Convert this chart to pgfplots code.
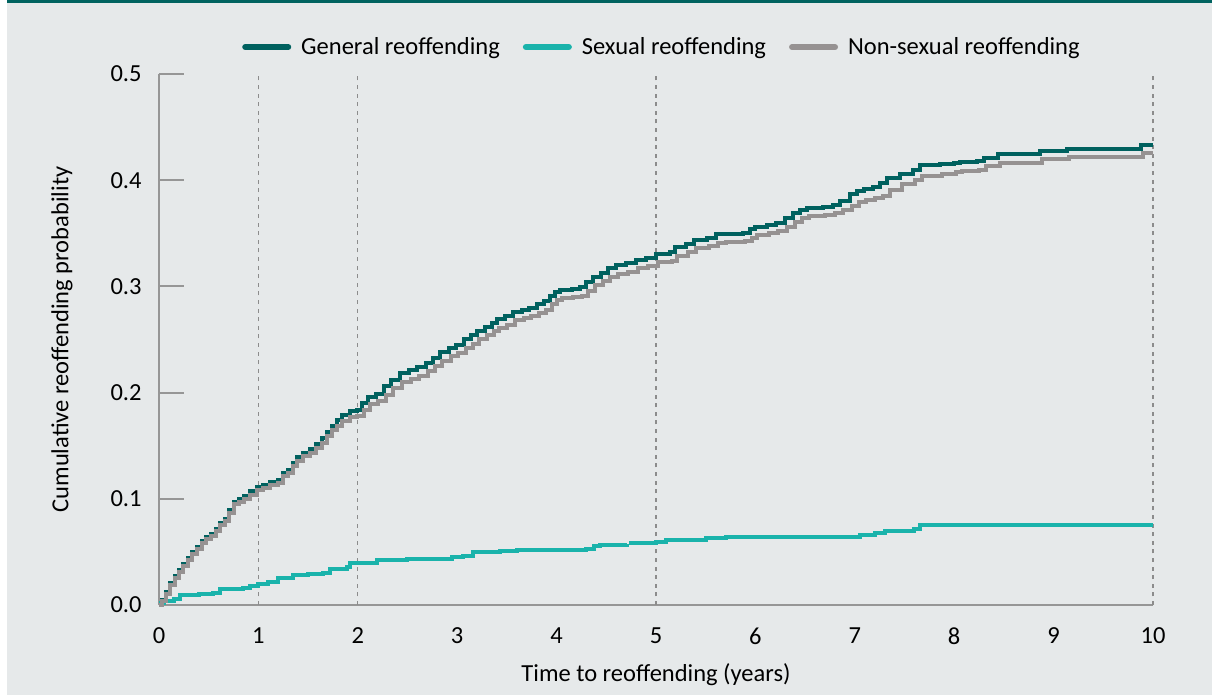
\documentclass[border=0pt]{standalone}
\usepackage{pgfplots}
\pgfplotsset{compat=1.18}
\usepackage{fontspec}
\setmainfont{Carlito}
\definecolor{bgc}{HTML}{E6E9EA}
\definecolor{band}{HTML}{006360}
\definecolor{gen}{HTML}{00615F}
\definecolor{sex}{HTML}{1AB3AB}
\definecolor{nons}{HTML}{969292}
\definecolor{axc}{HTML}{969696}
\definecolor{dashc}{HTML}{8C8C8C}
\begin{document}
\begin{tikzpicture}
\useasboundingbox (0,0) rectangle (606pt,347.5pt);
\fill[white] (0,0) rectangle (606pt,347.5pt);
\fill[bgc] (3.5pt,0pt) rectangle (606pt,347.5pt);
\fill[band] (3.5pt,346pt) rectangle (606pt,347.5pt);
\begin{axis}[
  at={(79.5pt,45pt)}, anchor=south west,
  scale only axis, width=497pt, height=265.5pt,
  xmin=0, xmax=10, ymin=0, ymax=0.5,
  clip=false,
  axis lines=left,
  axis line style={-, draw=axc, line width=1pt},
  font=\fontsize{12.25}{14.5}\selectfont,
  xtick={0,1,...,10},
  ytick={0,0.1,0.2,0.3,0.4,0.5},
  xtick style={draw=none},
  ytick style={draw=axc, line width=1pt},
  ytick align=inside,
  major tick length=12.5pt,
  /pgf/number format/assume math mode=true,
  yticklabel={\pgfmathprintnumber[fixed, fixed zerofill, precision=1]{\tick}},
  yticklabel style={inner sep=0pt, xshift=-8.5pt, anchor=east},
  xticklabel style={inner sep=0pt, yshift=-5pt, anchor=north},
  extra x ticks={1,2,5,10},
  extra x tick labels={},
  extra x tick style={grid=major, major grid style={draw=dashc, line width=0.7pt, dash pattern=on 2pt off 2.3pt}, tick style={draw=none}},
  xlabel={Time to reoffending (years)},
  ylabel={Cumulative reoffending probability},
  xlabel style={at={(axis description cs:0.5,-0.1318)}, anchor=center, inner sep=0pt},
  ylabel style={at={(axis description cs:-0.0976,0.5)}, anchor=center, inner sep=0pt},
  legend style={at={(axis description cs:0.507,1.0508)}, anchor=center, draw=none, fill=none,
    font=\fontsize{12.25}{14.5}\selectfont,
    /tikz/every even column/.append style={column sep=9.5pt}},
  legend columns=3,
  legend cell align=left,
  legend image code/.code={\draw[#1, line width=3pt, line cap=round] (1.5pt,0pt) -- (23pt,0pt); \path (26.5pt,0pt);},
  unbounded coords=jump,
]
\addplot[const plot, gen, line width=2pt] coordinates {
(0,0) (0.03,0.005) (0.07,0.012) (0.11,0.021) (0.16,0.027) (0.2,0.033) (0.24,0.039) (0.29,0.044)
(0.33,0.05) (0.38,0.055) (0.43,0.06) (0.47,0.064) (0.52,0.067) (0.57,0.072) (0.61,0.077) (0.66,0.081)
(0.7,0.089) (0.75,0.097) (0.8,0.1) (0.86,0.103) (0.92,0.107) (0.99,0.111) (1.05,0.113) (1.12,0.116)
(1.2,0.118) (1.25,0.124) (1.3,0.127) (1.35,0.134) (1.39,0.139) (1.45,0.143) (1.52,0.147) (1.58,0.152)
(1.64,0.157) (1.69,0.163) (1.74,0.169) (1.79,0.174) (1.84,0.179) (1.92,0.183) (1.99,0.184) (2.04,0.19)
(2.1,0.196) (2.18,0.199) (2.26,0.206) (2.33,0.212) (2.42,0.218) (2.52,0.221) (2.6,0.224) (2.69,0.228)
(2.76,0.233) (2.83,0.238) (2.92,0.242) (2.99,0.245) (3.07,0.25) (3.14,0.254) (3.2,0.258) (3.28,0.262)
(3.35,0.266) (3.4,0.269) (3.48,0.272) (3.56,0.276) (3.65,0.278) (3.72,0.28) (3.8,0.283) (3.87,0.286)
(3.93,0.291) (3.98,0.295) (4.03,0.297) (4.15,0.298) (4.24,0.299) (4.3,0.304) (4.37,0.309) (4.45,0.313)
(4.52,0.317) (4.6,0.32) (4.7,0.322) (4.8,0.325) (4.9,0.327) (5.0,0.3305) (5.14,0.332) (5.19,0.337)
(5.3,0.34) (5.38,0.344) (5.51,0.346) (5.6,0.349) (5.68,0.3495) (5.88,0.35) (5.95,0.354) (6.0,0.356)
(6.12,0.358) (6.21,0.3595) (6.3,0.364) (6.38,0.369) (6.45,0.372) (6.52,0.3735) (6.68,0.3745) (6.78,0.377)
(6.85,0.38) (6.95,0.387) (7.02,0.39) (7.09,0.392) (7.18,0.394) (7.25,0.397) (7.32,0.402) (7.45,0.406)
(7.59,0.41) (7.66,0.414) (7.86,0.4155) (8.0,0.4165) (8.06,0.4175) (8.23,0.418) (8.3,0.421) (8.44,0.4247)
(8.86,0.4275) (9.13,0.429) (9.88,0.433) (10,0.433)
};
\addlegendentry{General reoffending}
\addplot[const plot, sex, line width=2pt] coordinates {
(0,0.002) (0.05,0.004) (0.15,0.006) (0.21,0.0095) (0.4,0.010) (0.54,0.011) (0.61,0.015) (0.85,0.016)
(0.92,0.018) (1.0,0.020) (1.1,0.022) (1.2,0.025) (1.35,0.028) (1.5,0.029) (1.65,0.030) (1.72,0.034)
(1.89,0.036) (1.92,0.0395) (2.19,0.042) (2.5,0.043) (2.8,0.043) (2.95,0.045) (3.06,0.046) (3.16,0.050)
(3.43,0.051) (3.6,0.0515) (4.0,0.052) (4.3,0.053) (4.38,0.0555) (4.44,0.0565) (4.71,0.0574)
(4.72,nan)
(4.73,0.0587) (5.0,0.0596) (5.1,0.061) (5.34,0.0612) (5.5,0.063) (5.7,0.064) (7.0,0.064)
(7.05,0.066) (7.2,0.068) (7.3,0.070) (7.6,0.072) (7.66,0.075) (10,0.075)
};
\addlegendentry{Sexual reoffending}
\addplot[const plot, nons, line width=2pt] coordinates {
(0,0) (0.03,0.004) (0.07,0.010) (0.11,0.019) (0.16,0.025) (0.2,0.031) (0.24,0.037) (0.29,0.042)
(0.33,0.048) (0.38,0.053) (0.43,0.058) (0.47,0.062) (0.52,0.065) (0.57,0.070) (0.61,0.075) (0.66,0.079)
(0.7,0.087) (0.75,0.095) (0.8,0.097) (0.86,0.100) (0.92,0.104) (0.99,0.108) (1.05,0.110) (1.12,0.113)
(1.2,0.115) (1.25,0.121) (1.3,0.124) (1.35,0.131) (1.39,0.136) (1.45,0.140) (1.52,0.143) (1.58,0.148)
(1.64,0.153) (1.69,0.159) (1.74,0.165) (1.79,0.169) (1.84,0.173) (1.92,0.177) (1.99,0.178) (2.06,0.184)
(2.12,0.189) (2.2,0.192) (2.28,0.198) (2.35,0.204) (2.44,0.210) (2.54,0.213) (2.62,0.216) (2.71,0.220)
(2.78,0.225) (2.85,0.230) (2.94,0.234) (3.01,0.237) (3.09,0.242) (3.16,0.246) (3.22,0.250) (3.3,0.254)
(3.37,0.258) (3.42,0.261) (3.5,0.264) (3.58,0.268) (3.67,0.270) (3.74,0.272) (3.82,0.275) (3.89,0.278)
(3.95,0.283) (4.0,0.287) (4.05,0.289) (4.17,0.290) (4.26,0.291) (4.32,0.296) (4.39,0.301) (4.47,0.305)
(4.54,0.309) (4.62,0.312) (4.72,0.314) (4.82,0.317) (4.92,0.319) (5.02,0.323) (5.16,0.324) (5.21,0.329)
(5.32,0.332) (5.4,0.336) (5.53,0.338) (5.62,0.341) (5.7,0.342) (5.9,0.3425) (5.97,0.346) (6.02,0.348)
(6.14,0.350) (6.23,0.352) (6.32,0.356) (6.4,0.361) (6.47,0.364) (6.54,0.366) (6.7,0.367) (6.8,0.369)
(6.88,0.372) (6.97,0.376) (7.04,0.379) (7.11,0.381) (7.2,0.383) (7.28,0.385) (7.35,0.391) (7.47,0.396)
(7.61,0.400) (7.68,0.404) (7.88,0.406) (8.02,0.408) (8.08,0.409) (8.25,0.410) (8.32,0.413) (8.46,0.4165)
(8.88,0.4195) (9.15,0.4215) (9.9,0.4256) (10,0.4256)
};
\addlegendentry{Non-sexual reoffending}
\end{axis}
\end{tikzpicture}
\end{document}
